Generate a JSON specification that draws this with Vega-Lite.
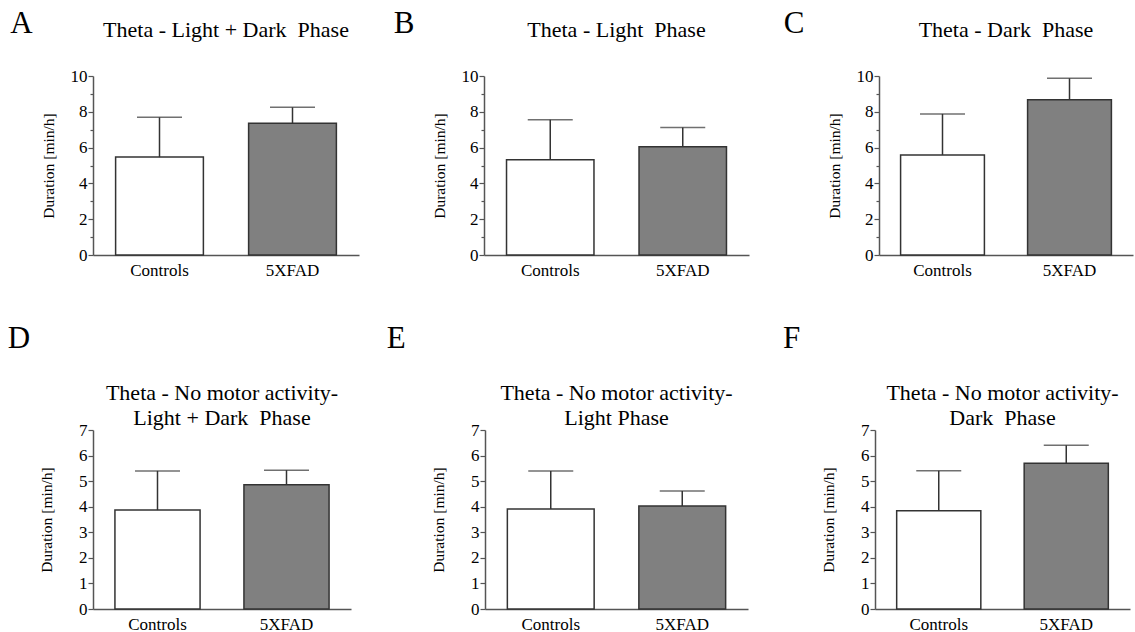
{
  "$schema": "https://vega.github.io/schema/vega-lite/v6.json",
  "padding": {"left": 7, "top": 8, "right": 2, "bottom": 2},
  "background": "#ffffff",
  "config": {
    "font": "Liberation Serif",
    "view": {"stroke": null},
    "title": {"font": "Liberation Serif", "fontSize": 22, "fontWeight": "normal", "color": "#000000"},
    "axis": {"grid": false, "domainColor": "#555555", "domainWidth": 1.5, "tickColor": "#555555", "tickWidth": 1.2, "labelFont": "Liberation Serif", "labelColor": "#000000", "titleFont": "Liberation Serif", "titleColor": "#000000", "titleFontWeight": "normal", "labelOverlap": false},
    "concat": {"spacing": 20}
  },
  "data": {"values": [
    {"panel": "A", "group": "Controls", "mean": 5.47, "upper": 7.69},
    {"panel": "A", "group": "5XFAD", "mean": 7.36, "upper": 8.25},
    {"panel": "B", "group": "Controls", "mean": 5.32, "upper": 7.55},
    {"panel": "B", "group": "5XFAD", "mean": 6.05, "upper": 7.12},
    {"panel": "C", "group": "Controls", "mean": 5.59, "upper": 7.88},
    {"panel": "C", "group": "5XFAD", "mean": 8.68, "upper": 9.87},
    {"panel": "D", "group": "Controls", "mean": 3.87, "upper": 5.40},
    {"panel": "D", "group": "5XFAD", "mean": 4.86, "upper": 5.43},
    {"panel": "E", "group": "Controls", "mean": 3.91, "upper": 5.40},
    {"panel": "E", "group": "5XFAD", "mean": 4.03, "upper": 4.61},
    {"panel": "F", "group": "Controls", "mean": 3.84, "upper": 5.41},
    {"panel": "F", "group": "5XFAD", "mean": 5.70, "upper": 6.40}
  ]},
  "spacing": 45,
  "vconcat": [
    {
      "spacing": 34,
      "hconcat": [
        {
          "title": {"text": "A", "orient": "left", "anchor": "end", "angle": 0, "align": "right", "baseline": "top", "fontSize": 31, "offset": 0, "dx": 14, "dy": -10},
          "vconcat": [{
            "width": 266, "height": 179,
            "title": {"text": "Theta - Light + Dark \u00a0Phase", "offset": 25},
            "transform": [{"filter": "datum.panel == 'A'"}],
            "encoding": {"x": {"field": "group", "type": "nominal", "sort": ["Controls", "5XFAD"], "scale": {"paddingInner": 0.34, "paddingOuter": 0.17}, "axis": {"title": null, "labelAngle": 0, "ticks": false, "labelPadding": 7, "labelFontSize": 17}}},
            "layer": [
              {"mark": {"type": "bar", "stroke": "#333333", "strokeWidth": 1.5}, "encoding": {
                "y": {"field": "mean", "type": "quantitative", "scale": {"domain": [0, 10], "nice": false}, "axis": {"title": "Duration [min/h]", "titleFontSize": 15.5, "titlePadding": 14, "labelFontSize": 17, "labelPadding": 1, "labelOverlap": false, "values": [0,1,2,3,4,5,6,7,8,9,10], "labelExpr": "datum.value % 2 == 0 ? datum.label : ''", "tickSize": {"condition": {"test": "datum.value % 2 != 0", "value": 3}, "value": 5}}},
                "fill": {"field": "group", "type": "nominal", "scale": {"domain": ["Controls", "5XFAD"], "range": ["#ffffff", "#808080"]}, "legend": null}}},
              {"mark": {"type": "rule", "color": "#333333", "strokeWidth": 1.5}, "encoding": {"y": {"field": "mean", "type": "quantitative", "axis": {"title": "Duration [min/h]", "titleFontSize": 15.5, "titlePadding": 14, "labelFontSize": 17, "labelPadding": 1, "labelOverlap": false, "values": [0,1,2,3,4,5,6,7,8,9,10], "labelExpr": "datum.value % 2 == 0 ? datum.label : ''", "tickSize": {"condition": {"test": "datum.value % 2 != 0", "value": 3}, "value": 5}}}, "y2": {"field": "upper"}}},
              {"mark": {"type": "tick", "color": "#333333", "size": 45, "thickness": 1.5}, "encoding": {"y": {"field": "upper", "type": "quantitative", "axis": {"title": "Duration [min/h]", "titleFontSize": 15.5, "titlePadding": 14, "labelFontSize": 17, "labelPadding": 1, "labelOverlap": false, "values": [0,1,2,3,4,5,6,7,8,9,10], "labelExpr": "datum.value % 2 == 0 ? datum.label : ''", "tickSize": {"condition": {"test": "datum.value % 2 != 0", "value": 3}, "value": 5}}}}}
            ]
          }]
        },
        {
          "title": {"text": "B", "orient": "left", "anchor": "end", "angle": 0, "align": "right", "baseline": "top", "fontSize": 31, "offset": 0, "dx": 3, "dy": -10},
          "vconcat": [{
            "width": 265, "height": 179,
            "title": {"text": "Theta - Light \u00a0Phase", "offset": 25},
            "transform": [{"filter": "datum.panel == 'B'"}],
            "encoding": {"x": {"field": "group", "type": "nominal", "sort": ["Controls", "5XFAD"], "scale": {"paddingInner": 0.34, "paddingOuter": 0.17}, "axis": {"title": null, "labelAngle": 0, "ticks": false, "labelPadding": 7, "labelFontSize": 17}}},
            "layer": [
              {"mark": {"type": "bar", "stroke": "#333333", "strokeWidth": 1.5}, "encoding": {
                "y": {"field": "mean", "type": "quantitative", "scale": {"domain": [0, 10], "nice": false}, "axis": {"title": "Duration [min/h]", "titleFontSize": 15.5, "titlePadding": 14, "labelFontSize": 17, "labelPadding": 1, "labelOverlap": false, "values": [0,1,2,3,4,5,6,7,8,9,10], "labelExpr": "datum.value % 2 == 0 ? datum.label : ''", "tickSize": {"condition": {"test": "datum.value % 2 != 0", "value": 3}, "value": 5}}},
                "fill": {"field": "group", "type": "nominal", "scale": {"domain": ["Controls", "5XFAD"], "range": ["#ffffff", "#808080"]}, "legend": null}}},
              {"mark": {"type": "rule", "color": "#333333", "strokeWidth": 1.5}, "encoding": {"y": {"field": "mean", "type": "quantitative", "axis": {"title": "Duration [min/h]", "titleFontSize": 15.5, "titlePadding": 14, "labelFontSize": 17, "labelPadding": 1, "labelOverlap": false, "values": [0,1,2,3,4,5,6,7,8,9,10], "labelExpr": "datum.value % 2 == 0 ? datum.label : ''", "tickSize": {"condition": {"test": "datum.value % 2 != 0", "value": 3}, "value": 5}}}, "y2": {"field": "upper"}}},
              {"mark": {"type": "tick", "color": "#333333", "size": 45, "thickness": 1.5}, "encoding": {"y": {"field": "upper", "type": "quantitative", "axis": {"title": "Duration [min/h]", "titleFontSize": 15.5, "titlePadding": 14, "labelFontSize": 17, "labelPadding": 1, "labelOverlap": false, "values": [0,1,2,3,4,5,6,7,8,9,10], "labelExpr": "datum.value % 2 == 0 ? datum.label : ''", "tickSize": {"condition": {"test": "datum.value % 2 != 0", "value": 3}, "value": 5}}}}}
            ]
          }]
        },
        {
          "title": {"text": "C", "orient": "left", "anchor": "end", "angle": 0, "align": "right", "baseline": "top", "fontSize": 31, "offset": 2, "dy": -10},
          "vconcat": [{
            "width": 254, "height": 179,
            "title": {"text": "Theta - Dark \u00a0Phase", "offset": 25},
            "transform": [{"filter": "datum.panel == 'C'"}],
            "encoding": {"x": {"field": "group", "type": "nominal", "sort": ["Controls", "5XFAD"], "scale": {"paddingInner": 0.34, "paddingOuter": 0.17}, "axis": {"title": null, "labelAngle": 0, "ticks": false, "labelPadding": 7, "labelFontSize": 17}}},
            "layer": [
              {"mark": {"type": "bar", "stroke": "#333333", "strokeWidth": 1.5}, "encoding": {
                "y": {"field": "mean", "type": "quantitative", "scale": {"domain": [0, 10], "nice": false}, "axis": {"title": "Duration [min/h]", "titleFontSize": 15.5, "titlePadding": 14, "labelFontSize": 17, "labelPadding": 1, "labelOverlap": false, "values": [0,1,2,3,4,5,6,7,8,9,10], "labelExpr": "datum.value % 2 == 0 ? datum.label : ''", "tickSize": {"condition": {"test": "datum.value % 2 != 0", "value": 3}, "value": 5}}},
                "fill": {"field": "group", "type": "nominal", "scale": {"domain": ["Controls", "5XFAD"], "range": ["#ffffff", "#808080"]}, "legend": null}}},
              {"mark": {"type": "rule", "color": "#333333", "strokeWidth": 1.5}, "encoding": {"y": {"field": "mean", "type": "quantitative", "axis": {"title": "Duration [min/h]", "titleFontSize": 15.5, "titlePadding": 14, "labelFontSize": 17, "labelPadding": 1, "labelOverlap": false, "values": [0,1,2,3,4,5,6,7,8,9,10], "labelExpr": "datum.value % 2 == 0 ? datum.label : ''", "tickSize": {"condition": {"test": "datum.value % 2 != 0", "value": 3}, "value": 5}}}, "y2": {"field": "upper"}}},
              {"mark": {"type": "tick", "color": "#333333", "size": 45, "thickness": 1.5}, "encoding": {"y": {"field": "upper", "type": "quantitative", "axis": {"title": "Duration [min/h]", "titleFontSize": 15.5, "titlePadding": 14, "labelFontSize": 17, "labelPadding": 1, "labelOverlap": false, "values": [0,1,2,3,4,5,6,7,8,9,10], "labelExpr": "datum.value % 2 == 0 ? datum.label : ''", "tickSize": {"condition": {"test": "datum.value % 2 != 0", "value": 3}, "value": 5}}}}}
            ]
          }]
        }
      ]
    },
    {
      "spacing": 35,
      "hconcat": [
        {
          "title": {"text": "D", "orient": "left", "anchor": "end", "angle": 0, "align": "right", "baseline": "top", "fontSize": 31, "offset": 0, "dx": 13, "dy": -58},
          "vconcat": [{
            "width": 258, "height": 179,
            "title": {"text": ["Theta - No motor activity-", "Light + Dark \u00a0Phase"], "offset": -9, "lineHeight": 25},
            "transform": [{"filter": "datum.panel == 'D'"}],
            "encoding": {"x": {"field": "group", "type": "nominal", "sort": ["Controls", "5XFAD"], "scale": {"paddingInner": 0.34, "paddingOuter": 0.17}, "axis": {"title": null, "labelAngle": 0, "ticks": false, "labelPadding": 7, "labelFontSize": 17}}},
            "layer": [
              {"mark": {"type": "bar", "stroke": "#333333", "strokeWidth": 1.5}, "encoding": {
                "y": {"field": "mean", "type": "quantitative", "scale": {"domain": [0, 7], "nice": false}, "axis": {"title": "Duration [min/h]", "titleFontSize": 15.5, "titlePadding": 24, "labelFontSize": 17, "labelPadding": 1, "labelOverlap": false, "format": "d", "values": [0,0.5,1,1.5,2,2.5,3,3.5,4,4.5,5,5.5,6,6.5,7], "labelExpr": "datum.value % 1 == 0 ? datum.label : ''", "tickSize": {"condition": {"test": "datum.value % 1 != 0", "value": 3}, "value": 5}}},
                "fill": {"field": "group", "type": "nominal", "scale": {"domain": ["Controls", "5XFAD"], "range": ["#ffffff", "#808080"]}, "legend": null}}},
              {"mark": {"type": "rule", "color": "#333333", "strokeWidth": 1.5}, "encoding": {"y": {"field": "mean", "type": "quantitative", "axis": {"title": "Duration [min/h]", "titleFontSize": 15.5, "titlePadding": 24, "labelFontSize": 17, "labelPadding": 1, "labelOverlap": false, "format": "d", "values": [0,0.5,1,1.5,2,2.5,3,3.5,4,4.5,5,5.5,6,6.5,7], "labelExpr": "datum.value % 1 == 0 ? datum.label : ''", "tickSize": {"condition": {"test": "datum.value % 1 != 0", "value": 3}, "value": 5}}}, "y2": {"field": "upper"}}},
              {"mark": {"type": "tick", "color": "#333333", "size": 45, "thickness": 1.5}, "encoding": {"y": {"field": "upper", "type": "quantitative", "axis": {"title": "Duration [min/h]", "titleFontSize": 15.5, "titlePadding": 24, "labelFontSize": 17, "labelPadding": 1, "labelOverlap": false, "format": "d", "values": [0,0.5,1,1.5,2,2.5,3,3.5,4,4.5,5,5.5,6,6.5,7], "labelExpr": "datum.value % 1 == 0 ? datum.label : ''", "tickSize": {"condition": {"test": "datum.value % 1 != 0", "value": 3}, "value": 5}}}}}
            ]
          }]
        },
        {
          "title": {"text": "E", "orient": "left", "anchor": "end", "angle": 0, "align": "right", "baseline": "top", "fontSize": 31, "offset": 7, "dy": -58},
          "vconcat": [{
            "width": 263, "height": 179,
            "title": {"text": ["Theta - No motor activity-", "Light Phase"], "offset": -9, "lineHeight": 25},
            "transform": [{"filter": "datum.panel == 'E'"}],
            "encoding": {"x": {"field": "group", "type": "nominal", "sort": ["Controls", "5XFAD"], "scale": {"paddingInner": 0.34, "paddingOuter": 0.17}, "axis": {"title": null, "labelAngle": 0, "ticks": false, "labelPadding": 7, "labelFontSize": 17}}},
            "layer": [
              {"mark": {"type": "bar", "stroke": "#333333", "strokeWidth": 1.5}, "encoding": {
                "y": {"field": "mean", "type": "quantitative", "scale": {"domain": [0, 7], "nice": false}, "axis": {"title": "Duration [min/h]", "titleFontSize": 15.5, "titlePadding": 24, "labelFontSize": 17, "labelPadding": 1, "labelOverlap": false, "format": "d", "values": [0,0.5,1,1.5,2,2.5,3,3.5,4,4.5,5,5.5,6,6.5,7], "labelExpr": "datum.value % 1 == 0 ? datum.label : ''", "tickSize": {"condition": {"test": "datum.value % 1 != 0", "value": 3}, "value": 5}}},
                "fill": {"field": "group", "type": "nominal", "scale": {"domain": ["Controls", "5XFAD"], "range": ["#ffffff", "#808080"]}, "legend": null}}},
              {"mark": {"type": "rule", "color": "#333333", "strokeWidth": 1.5}, "encoding": {"y": {"field": "mean", "type": "quantitative", "axis": {"title": "Duration [min/h]", "titleFontSize": 15.5, "titlePadding": 24, "labelFontSize": 17, "labelPadding": 1, "labelOverlap": false, "format": "d", "values": [0,0.5,1,1.5,2,2.5,3,3.5,4,4.5,5,5.5,6,6.5,7], "labelExpr": "datum.value % 1 == 0 ? datum.label : ''", "tickSize": {"condition": {"test": "datum.value % 1 != 0", "value": 3}, "value": 5}}}, "y2": {"field": "upper"}}},
              {"mark": {"type": "tick", "color": "#333333", "size": 45, "thickness": 1.5}, "encoding": {"y": {"field": "upper", "type": "quantitative", "axis": {"title": "Duration [min/h]", "titleFontSize": 15.5, "titlePadding": 24, "labelFontSize": 17, "labelPadding": 1, "labelOverlap": false, "format": "d", "values": [0,0.5,1,1.5,2,2.5,3,3.5,4,4.5,5,5.5,6,6.5,7], "labelExpr": "datum.value % 1 == 0 ? datum.label : ''", "tickSize": {"condition": {"test": "datum.value % 1 != 0", "value": 3}, "value": 5}}}}}
            ]
          }]
        },
        {
          "title": {"text": "F", "orient": "left", "anchor": "end", "angle": 0, "align": "right", "baseline": "top", "fontSize": 31, "offset": 4, "dy": -58},
          "vconcat": [{
            "width": 255, "height": 179,
            "title": {"text": ["Theta - No motor activity-", "Dark \u00a0Phase"], "offset": -9, "lineHeight": 25},
            "transform": [{"filter": "datum.panel == 'F'"}],
            "encoding": {"x": {"field": "group", "type": "nominal", "sort": ["Controls", "5XFAD"], "scale": {"paddingInner": 0.34, "paddingOuter": 0.17}, "axis": {"title": null, "labelAngle": 0, "ticks": false, "labelPadding": 7, "labelFontSize": 17}}},
            "layer": [
              {"mark": {"type": "bar", "stroke": "#333333", "strokeWidth": 1.5}, "encoding": {
                "y": {"field": "mean", "type": "quantitative", "scale": {"domain": [0, 7], "nice": false}, "axis": {"title": "Duration [min/h]", "titleFontSize": 15.5, "titlePadding": 24, "labelFontSize": 17, "labelPadding": 1, "labelOverlap": false, "format": "d", "values": [0,0.5,1,1.5,2,2.5,3,3.5,4,4.5,5,5.5,6,6.5,7], "labelExpr": "datum.value % 1 == 0 ? datum.label : ''", "tickSize": {"condition": {"test": "datum.value % 1 != 0", "value": 3}, "value": 5}}},
                "fill": {"field": "group", "type": "nominal", "scale": {"domain": ["Controls", "5XFAD"], "range": ["#ffffff", "#808080"]}, "legend": null}}},
              {"mark": {"type": "rule", "color": "#333333", "strokeWidth": 1.5}, "encoding": {"y": {"field": "mean", "type": "quantitative", "axis": {"title": "Duration [min/h]", "titleFontSize": 15.5, "titlePadding": 24, "labelFontSize": 17, "labelPadding": 1, "labelOverlap": false, "format": "d", "values": [0,0.5,1,1.5,2,2.5,3,3.5,4,4.5,5,5.5,6,6.5,7], "labelExpr": "datum.value % 1 == 0 ? datum.label : ''", "tickSize": {"condition": {"test": "datum.value % 1 != 0", "value": 3}, "value": 5}}}, "y2": {"field": "upper"}}},
              {"mark": {"type": "tick", "color": "#333333", "size": 45, "thickness": 1.5}, "encoding": {"y": {"field": "upper", "type": "quantitative", "axis": {"title": "Duration [min/h]", "titleFontSize": 15.5, "titlePadding": 24, "labelFontSize": 17, "labelPadding": 1, "labelOverlap": false, "format": "d", "values": [0,0.5,1,1.5,2,2.5,3,3.5,4,4.5,5,5.5,6,6.5,7], "labelExpr": "datum.value % 1 == 0 ? datum.label : ''", "tickSize": {"condition": {"test": "datum.value % 1 != 0", "value": 3}, "value": 5}}}}}
            ]
          }]
        }
      ]
    }
  ]
}
